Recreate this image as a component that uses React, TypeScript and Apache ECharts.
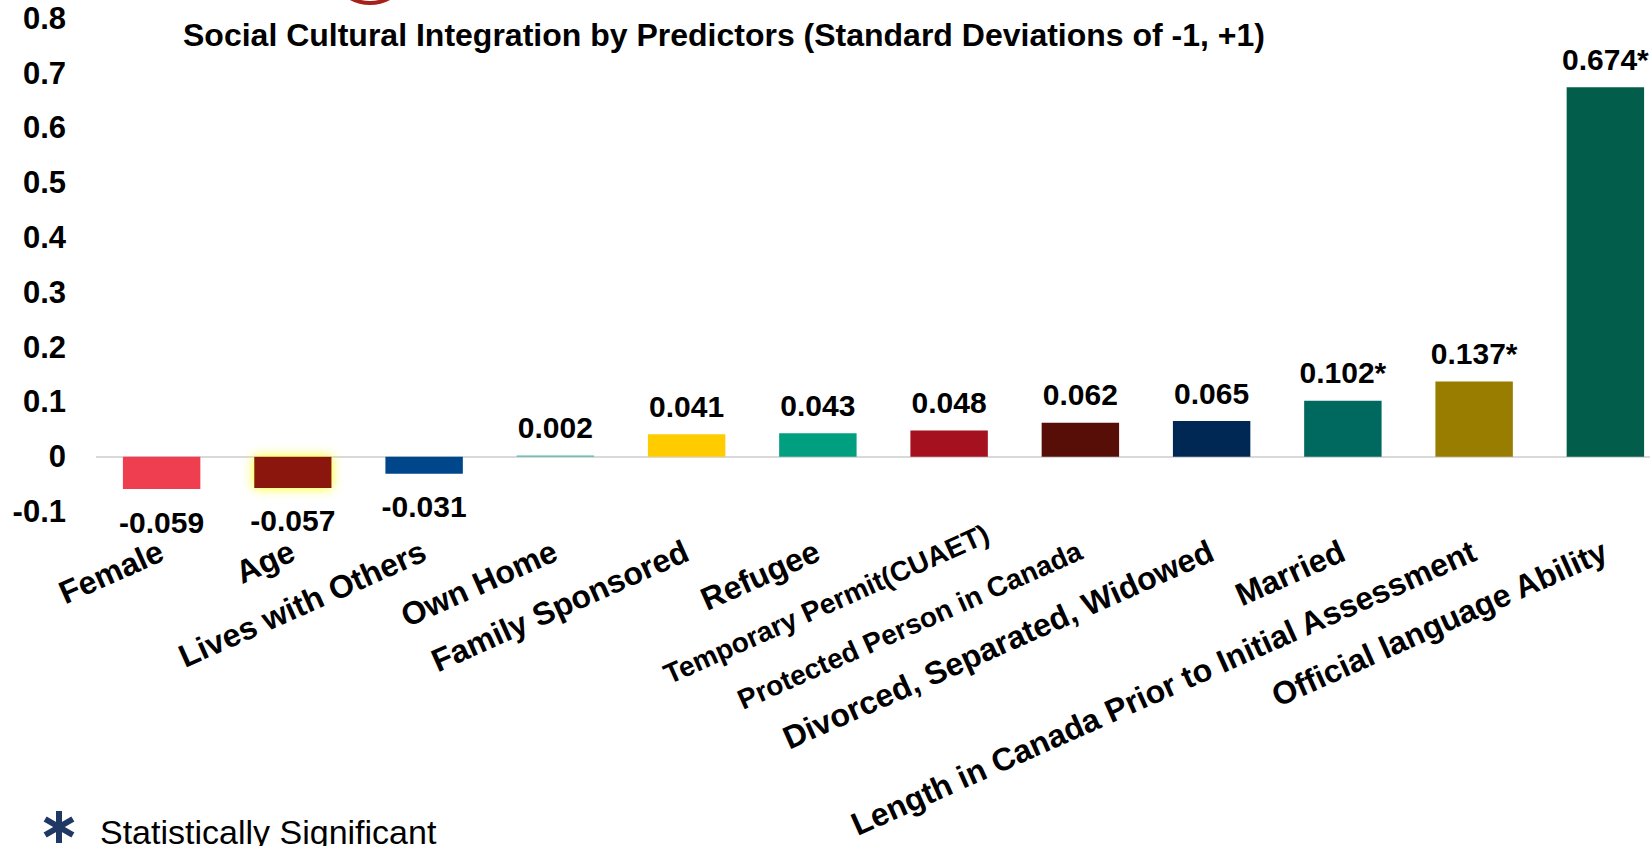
import React, { useEffect, useRef } from "react";
import * as echarts from "echarts";

// Predictors, in plotting order
const categories = [
  "Female",
  "Age",
  "Lives with Others",
  "Own Home",
  "Family Sponsored",
  "Refugee",
  "Temporary Permit(CUAET)",
  "Protected Person in Canada",
  "Divorced, Separated, Widowed",
  "Married",
  "Length in Canada Prior to Initial Assessment",
  "Official language Ability",
];

// Change in social cultural integration (SD -1 to +1)
const values = [-0.059, -0.057, -0.031, 0.002, 0.041, 0.043, 0.048, 0.062, 0.065, 0.102, 0.137, 0.674];

// Statistically significant predictors get an asterisk
const significant = [false, false, false, false, false, false, false, false, false, true, true, true];

const barColors = [
  "#ee3e50",
  "#8b1208",
  "#00468b",
  "#4fb9a8",
  "#ffcc00",
  "#009f80",
  "#a5111e",
  "#570e07",
  "#002855",
  "#00695f",
  "#997d00",
  "#025e4b",
];

const yMin = -0.1;
const yMax = 0.8;
const yStep = 0.1;

const smallLabels = new Set(["Temporary Permit(CUAET)", "Protected Person in Canada"]);
const highlighted = new Set(["Age"]);

const FONT = "'Liberation Sans', Arial, Helvetica, sans-serif";

export default function App() {
  const ref = useRef<HTMLDivElement>(null);

  useEffect(() => {
    if (!ref.current) return;
    const chart = echarts.init(ref.current, null, { renderer: "svg" });

    const seriesData = values.map((v, i) => ({
      value: v,
      itemStyle: {
        color: barColors[i],
        ...(highlighted.has(categories[i])
          ? { shadowColor: "rgba(255, 255, 0, 0.95)", shadowBlur: 12 }
          : {}),
      },
      label: {
        position: v < 0 ? "bottom" : "top",
        distance: v < 0 ? 18 : 13,
      },
    }));

    const axisData = categories.map((c) => {
      if (!smallLabels.has(c)) return c;
      const textStyle: any = { fontSize: 28 };
      if (c === "Temporary Permit(CUAET)") {
        // this label sits further along its slant than the others
        textStyle.padding = [0, -42, 20, 0];
      }
      return { value: c, textStyle };
    });

    // asterisk marker for the footnote
    const ax = 59;
    const ay = 827;
    const ar = 16;
    const starLines = [90, 30, 150].map((deg) => {
      const a = (deg * Math.PI) / 180;
      return {
        type: "line",
        shape: {
          x1: ax - ar * Math.cos(a),
          y1: ay - ar * Math.sin(a),
          x2: ax + ar * Math.cos(a),
          y2: ay + ar * Math.sin(a),
        },
        style: { stroke: "#1f3864", lineWidth: 6 },
      };
    });

    chart.setOption({
      animation: false,
      backgroundColor: "#ffffff",
      title: {
        text: "Social Cultural Integration by Predictors (Standard Deviations of -1, +1)",
        left: 178,
        top: 14,
        textStyle: {
          fontFamily: FONT,
          fontWeight: "bold",
          fontSize: 32,
          lineHeight: 32,
          color: "#000000",
        },
      },
      grid: { left: 96, right: 0, top: 18.3, bottom: 334.5, containLabel: false },
      xAxis: {
        type: "category",
        data: axisData,
        axisLine: { show: false, onZero: false },
        axisTick: { show: false },
        axisLabel: {
          interval: 0,
          rotate: 24,
          margin: 38,
          fontFamily: FONT,
          fontWeight: "bold",
          fontSize: 32,
          color: "#000000",
        },
      },
      yAxis: {
        type: "value",
        min: yMin,
        max: yMax,
        interval: yStep,
        axisLine: { show: false },
        axisTick: { show: false },
        splitLine: { show: false },
        axisLabel: {
          margin: 30,
          fontFamily: FONT,
          fontWeight: "bold",
          fontSize: 31,
          color: "#000000",
          formatter: (v: number) => (Math.abs(v) < 1e-9 ? "0" : v.toFixed(1)),
        },
      },
      series: [
        {
          type: "bar",
          data: seriesData,
          barWidth: "59%",
          label: {
            show: true,
            fontFamily: FONT,
            fontWeight: "bold",
            fontSize: 30,
            lineHeight: 30,
            color: "#000000",
            formatter: (p: any) =>
              (p.value as number).toFixed(3) + (significant[p.dataIndex] ? "*" : ""),
          },
          markLine: {
            silent: true,
            symbol: "none",
            label: { show: false },
            lineStyle: { color: "#d9d9d9", width: 2, type: "solid" },
            data: [{ yAxis: 0 }],
            z: 1,
          },
        },
      ],
      graphic: [
        {
          type: "arc",
          shape: { cx: 370, cy: -37, r: 40, startAngle: 0, endAngle: Math.PI },
          style: { stroke: "#a8201a", lineWidth: 4, fill: "none" },
        },
        ...starLines,
        {
          type: "text",
          x: 100,
          y: 832,
          style: {
            text: "Statistically Significant",
            fontFamily: FONT,
            fontSize: 34,
            fill: "#000000",
            verticalAlign: "middle",
            align: "left",
          },
        },
      ],
    });

    return () => chart.dispose();
  }, []);

  return (
    <div
      style={{
        position: "fixed",
        left: 0,
        top: 0,
        width: 1650,
        height: 846,
        overflow: "hidden",
        background: "#ffffff",
      }}
    >
      <div ref={ref} style={{ width: 1671, height: 846 }} />
    </div>
  );
}
